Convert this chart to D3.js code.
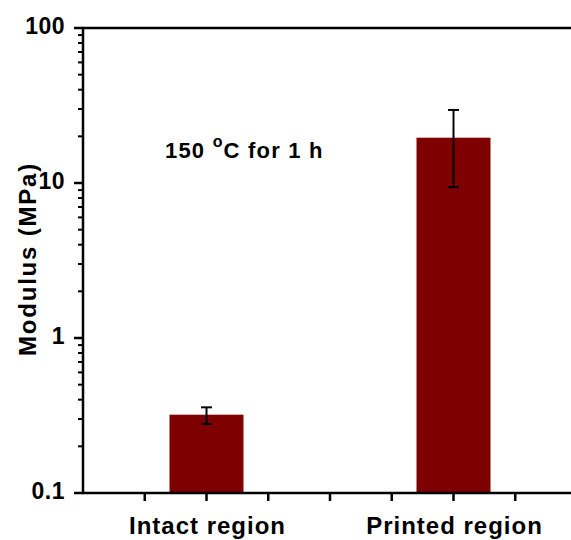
<!DOCTYPE html>
<html><head><meta charset="utf-8">
<script src="https://cdn.jsdelivr.net/npm/d3@7"></script>
<style>body{margin:0;background:#fff}svg{display:block}text{font-family:"Liberation Sans",Arial,sans-serif;font-weight:bold}</style>
</head><body>
<svg id="c" width="571" height="540"></svg>
<script>
const categories = ["Intact region", "Printed region"];
const catPos = [2, 6];
const values = [0.32, 19.6];
const errLow = [0.279, 9.4];
const errHigh = [0.357, 29.6];
const yTickLabels = ["0.1", "1", "10", "100"];
const yTicks = [0.1, 1, 10, 100];
const annotation = ["150 ", "o", "C for 1 h"];

const svg = d3.select("#c");
const L = 83, R = 577, T = 28, B = 493;
const x = d3.scaleLinear().domain([0, 8]).range([L, R]);
const y = d3.scaleLog().domain([0.1, 100]).range([B, T]);
const col = "#7e0000";
const bw = 74;

// bars
svg.selectAll("rect.bar").data(values).enter().append("rect")
  .attr("x", (d,i)=>x(catPos[i]) - bw/2).attr("width", bw)
  .attr("y", d=>y(d)).attr("height", d=>B - y(d)).attr("fill", col);

// error bars
const eg = svg.append("g").attr("stroke","#000").attr("stroke-width",2);
values.forEach((v,i)=>{
  const cx = x(catPos[i]);
  eg.append("line").attr("x1",cx).attr("x2",cx).attr("y1",y(errLow[i])).attr("y2",y(errHigh[i]));
  [errLow[i], errHigh[i]].forEach(e=>eg.append("line").attr("x1",cx-5.5).attr("x2",cx+5.5).attr("y1",y(e)).attr("y2",y(e)));
});

// y axis minor ticks
const minor = [];
for (let d = 0.1; d < 100; d *= 10) for (let k = 2; k <= 9; k++) minor.push(d*k);
const ya = svg.append("g").attr("stroke","#000");
ya.selectAll("line.mi").data(minor).enter().append("line")
  .attr("x1", L-5).attr("x2", L).attr("y1", d=>y(d)).attr("y2", d=>y(d)).attr("stroke-width",2);
ya.selectAll("line.ma").data(yTicks).enter().append("line")
  .attr("x1", L-9).attr("x2", L).attr("y1", d=>y(d)).attr("y2", d=>y(d)).attr("stroke-width",2.5);
svg.selectAll("text.yt").data(yTicks).enter().append("text")
  .attr("x", 65).attr("y", d=>y(d)+6).attr("text-anchor","end")
  .attr("font-size",23).attr("letter-spacing",0.5).text((d,i)=>yTickLabels[i]);

// x ticks
const xt = d3.range(1, 8);
svg.append("g").selectAll("line").data(xt).enter().append("line")
  .attr("x1", d=>x(d)).attr("x2", d=>x(d)).attr("y1", B).attr("y2", B+8)
  .attr("stroke","#000").attr("stroke-width",2.5);
svg.selectAll("text.xl").data(categories).enter().append("text")
  .attr("x", (d,i)=>x(catPos[i])+1).attr("y", 534).attr("text-anchor","middle")
  .attr("font-size",24).attr("letter-spacing",1).text(d=>d);

// frame
const fr = svg.append("g").attr("stroke","#000").attr("stroke-width",2.5).attr("fill","none");
fr.append("line").attr("x1",L).attr("x2",L).attr("y1",T-1).attr("y2",B+1);
fr.append("line").attr("x1",L-1).attr("x2",571).attr("y1",B).attr("y2",B);
fr.append("line").attr("x1",L-1).attr("x2",571).attr("y1",T).attr("y2",T);

// annotation
const at = svg.append("text").attr("x",165).attr("y",158).attr("font-size",22).attr("letter-spacing",1.2);
at.append("tspan").text(annotation[0]);
at.append("tspan").attr("dy",-11).attr("font-size",16).text(annotation[1]);
at.append("tspan").attr("dy",11).text(annotation[2]);

// y label
svg.append("text").attr("transform","translate(36,259) rotate(-90)")
  .attr("text-anchor","middle").attr("font-size",24).attr("letter-spacing",1.8).text("Modulus (MPa)");
</script>
</body></html>
